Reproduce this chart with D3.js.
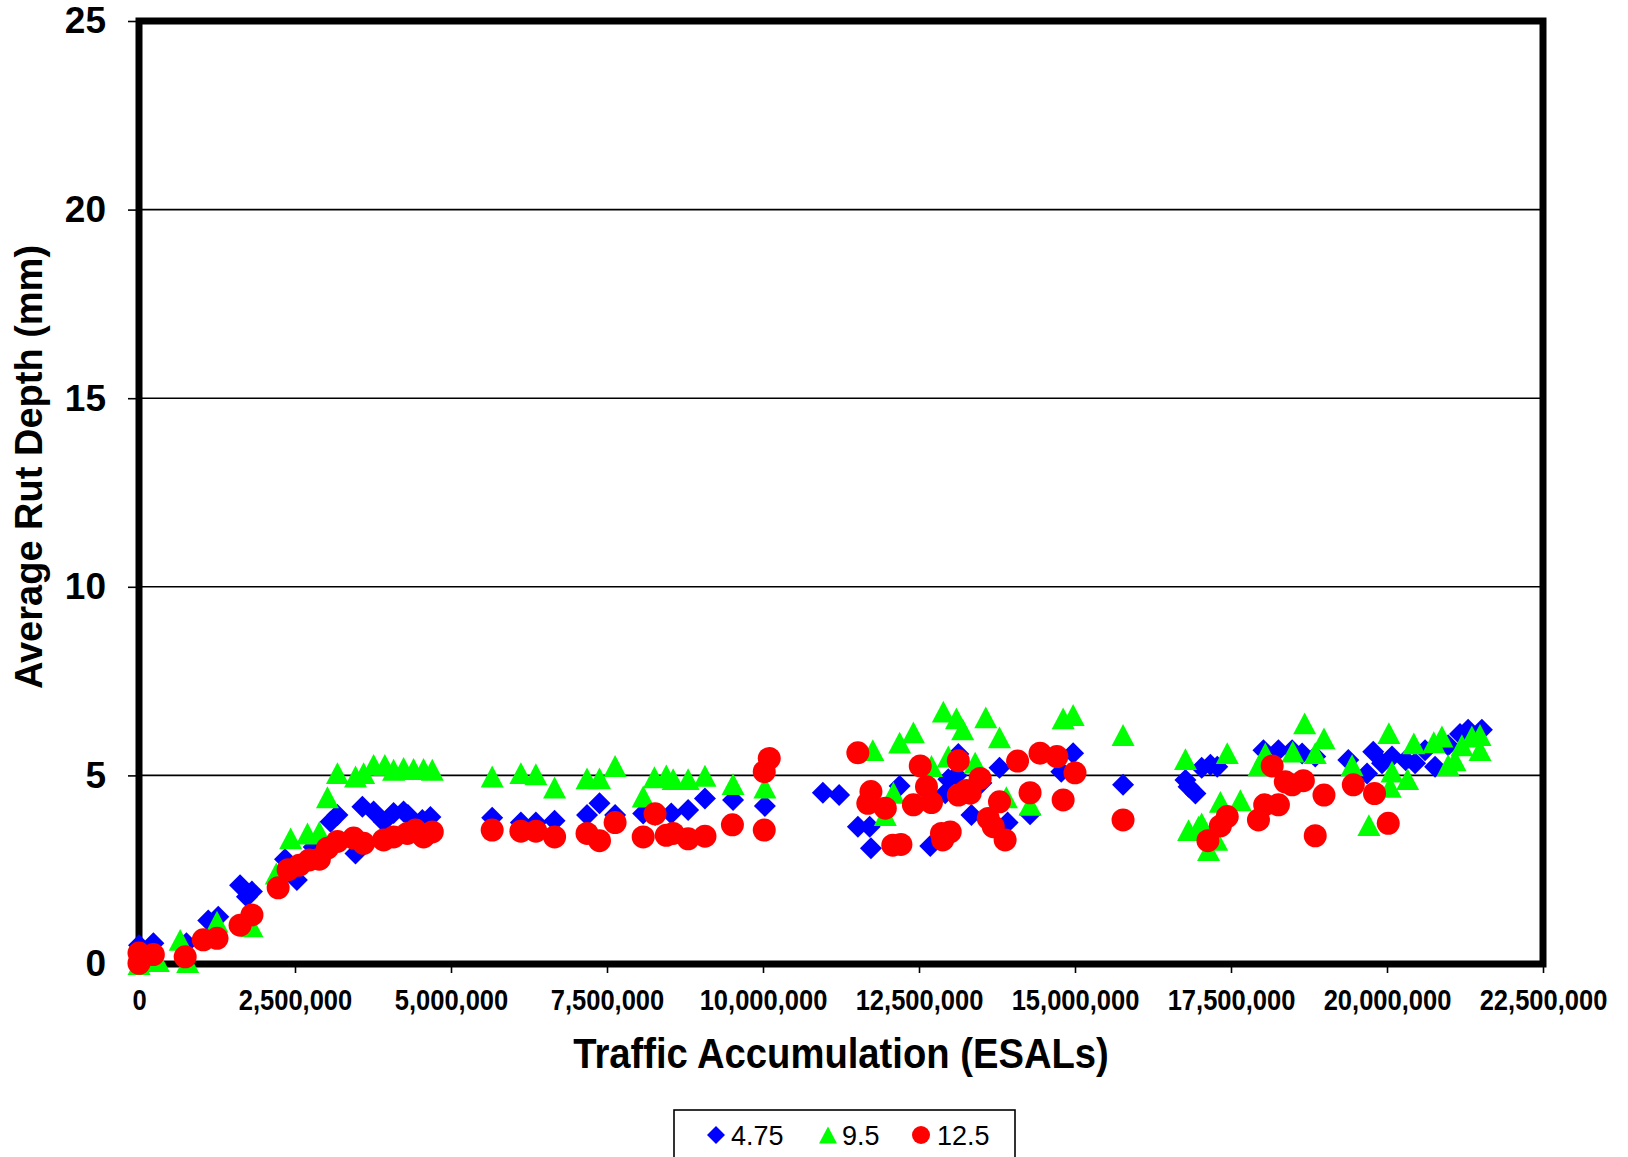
<!DOCTYPE html>
<html>
<head>
<meta charset="utf-8">
<script src="https://cdn.jsdelivr.net/npm/d3@7"></script>
<style>
  html, body { margin: 0; padding: 0; background: #fff; }
  svg { display: block; }
  text { font-family: "Liberation Sans", Arial, sans-serif; }
</style>
</head>
<body>
<svg id="chart" width="1628" height="1157"></svg>
<script>
// ---- Data (Traffic in ESALs, rut depth in mm) ----
const seriesNames = ["4.75", "9.5", "12.5"];
const seriesColors = ["#0000FF", "#00FF00", "#FF0000"];

const esal_475 = [0.0e6,0.23e6,0.76e6,1.11e6,1.27e6,1.62e6,1.73e6,1.81e6,2.34e6,2.53e6,2.8e6,3.07e6,3.18e6,3.47e6,3.58e6,3.76e6,3.92e6,4.08e6,4.24e6,4.31e6,4.54e6,4.67e6,5.66e6,6.12e6,6.36e6,6.66e6,7.18e6,7.38e6,7.63e6,8.08e6,8.27e6,8.53e6,8.8e6,9.07e6,9.52e6,10.03e6,10.96e6,11.22e6,11.52e6,11.71e6,11.73e6,12.19e6,12.68e6,12.92e6,12.97e6,13.1e6,13.13e6,13.34e6,13.5e6,13.79e6,13.92e6,14.28e6,14.78e6,14.97e6,15.77e6,16.77e6,16.82e6,16.93e6,17.03e6,17.17e6,17.28e6,18.02e6,18.26e6,18.48e6,18.64e6,18.85e6,19.38e6,19.68e6,19.78e6,19.92e6,20.08e6,20.3e6,20.45e6,20.61e6,20.77e6,20.98e6,21.17e6,21.3e6,21.52e6];
const rut_475 = [0.5,0.55,0.55,1.15,1.25,2.09,1.78,1.92,2.78,2.23,3.1,3.77,3.95,2.93,4.17,4.04,3.77,4.0,4.04,3.95,3.82,3.9,3.88,3.75,3.75,3.8,3.95,4.26,3.95,3.99,3.95,3.99,4.08,4.39,4.35,4.19,4.54,4.48,3.64,3.64,3.07,4.72,3.13,4.53,4.9,5.0,5.57,3.95,4.8,5.2,3.75,3.97,5.1,5.59,4.75,4.88,4.7,4.52,5.2,5.28,5.23,5.67,5.67,5.67,5.58,5.5,5.41,5.05,5.63,5.32,5.5,5.4,5.32,5.67,5.23,5.8,6.1,6.21,6.21];

const esal_95 = [0.0e6,0.31e6,0.66e6,0.78e6,1.25e6,1.81e6,2.2e6,2.43e6,2.7e6,2.89e6,3.02e6,3.18e6,3.47e6,3.6e6,3.76e6,3.94e6,4.08e6,4.24e6,4.4e6,4.56e6,4.7e6,5.66e6,6.12e6,6.36e6,6.66e6,7.18e6,7.38e6,7.63e6,8.08e6,8.26e6,8.45e6,8.56e6,8.8e6,9.07e6,9.52e6,10.03e6,11.76e6,11.96e6,12.09e6,12.19e6,12.41e6,12.7e6,12.89e6,12.97e6,13.1e6,13.2e6,13.4e6,13.57e6,13.79e6,13.9e6,14.28e6,14.81e6,14.97e6,15.77e6,16.77e6,16.82e6,16.98e6,17.03e6,17.14e6,17.27e6,17.33e6,17.44e6,17.65e6,17.95e6,18.05e6,18.49e6,18.68e6,18.85e6,18.99e6,19.44e6,19.71e6,20.03e6,20.05e6,20.08e6,20.33e6,20.43e6,20.75e6,20.88e6,20.98e6,21.09e6,21.2e6,21.36e6,21.49e6,21.49e6];
const rut_95 = [0.0,0.08,0.64,0.05,1.12,1.0,2.4,3.33,3.46,3.5,4.42,5.06,4.97,5.06,5.28,5.28,5.15,5.2,5.17,5.17,5.15,4.97,5.06,5.03,4.68,4.92,4.92,5.25,4.44,4.95,5.0,4.9,4.9,4.99,4.77,4.68,5.67,3.95,4.54,5.87,6.14,5.25,6.69,5.5,6.51,6.22,5.34,6.54,6.01,4.42,4.22,6.51,6.6,6.07,5.43,3.55,3.64,3.73,3.02,3.29,4.3,5.59,4.34,5.27,5.58,5.63,6.38,5.59,5.98,5.27,3.68,6.12,4.7,5.1,4.9,5.85,5.88,6.03,5.27,5.4,5.8,6.03,6.07,5.67];

const esal_125 = [0.0e6,0.0e6,0.23e6,0.74e6,1.03e6,1.25e6,1.62e6,1.81e6,2.23e6,2.39e6,2.57e6,2.73e6,2.89e6,3.02e6,3.18e6,3.44e6,3.6e6,3.92e6,4.08e6,4.3e6,4.43e6,4.56e6,4.7e6,5.66e6,6.12e6,6.36e6,6.66e6,7.18e6,7.38e6,7.63e6,8.08e6,8.27e6,8.45e6,8.56e6,8.8e6,9.07e6,9.51e6,10.02e6,10.1e6,10.02e6,11.52e6,11.68e6,11.73e6,11.96e6,12.08e6,12.21e6,12.41e6,12.52e6,12.62e6,12.7e6,12.86e6,12.88e6,13.0e6,13.13e6,13.13e6,13.26e6,13.32e6,13.48e6,13.61e6,13.69e6,13.79e6,13.88e6,14.08e6,14.28e6,14.44e6,14.71e6,14.81e6,15.0e6,15.77e6,17.13e6,17.33e6,17.44e6,17.94e6,18.04e6,18.16e6,18.26e6,18.37e6,18.48e6,18.66e6,18.85e6,18.99e6,19.46e6,19.8e6,20.02e6];
const rut_125 = [0.02,0.29,0.25,0.19,0.64,0.68,1.03,1.3,2.02,2.5,2.62,2.76,2.78,3.07,3.25,3.34,3.2,3.29,3.37,3.46,3.55,3.37,3.5,3.55,3.52,3.52,3.37,3.46,3.27,3.75,3.37,3.98,3.41,3.46,3.32,3.39,3.69,5.1,5.45,3.55,5.6,4.26,4.57,4.13,3.15,3.17,4.22,5.25,4.7,4.28,3.46,3.29,3.5,5.39,4.48,4.6,4.53,4.92,3.86,3.64,4.3,3.29,5.38,4.54,5.59,5.5,4.35,5.07,3.82,3.27,3.66,3.91,3.82,4.22,5.25,4.22,4.83,4.75,4.86,3.4,4.48,4.75,4.52,3.73];

const xTickValues = [0, 2500000, 5000000, 7500000, 10000000, 12500000, 15000000, 17500000, 20000000, 22500000];
const yTickValues = [0, 5, 10, 15, 20, 25];
const xTitle = "Traffic Accumulation (ESALs)";
const yTitle = "Average Rut Depth (mm)";

// ---- Layout ----
const svg = d3.select("#chart");
const W = 1628, H = 1157;
const plot = { left: 139, right: 1543, top: 21, bottom: 964 };

svg.append("rect").attr("x", 0).attr("y", 0).attr("width", W).attr("height", H).attr("fill", "#fff");

const x = d3.scaleLinear().domain([0, 22500000]).range([plot.left, plot.right]);
const y = d3.scaleLinear().domain([0, 25]).range([plot.bottom, plot.top]);

// Gridlines
svg.append("g").selectAll("line")
  .data(yTickValues.filter(v => v > 0 && v < 25))
  .join("line")
  .attr("x1", plot.left).attr("x2", plot.right)
  .attr("y1", d => y(d)).attr("y2", d => y(d))
  .attr("stroke", "#000").attr("stroke-width", 1.6);

// Axes (ticks + labels)
const xAxis = d3.axisBottom(x).tickValues(xTickValues).tickFormat(d3.format(",")).tickSize(9).tickPadding(16);
const gx = svg.append("g").attr("transform", `translate(0,${plot.bottom})`).call(xAxis);
gx.select(".domain").remove();
gx.selectAll(".tick line").attr("stroke", "#000").attr("stroke-width", 1.6);
gx.selectAll(".tick text")
  .attr("font-family", '"Liberation Sans", Arial, sans-serif')
  .attr("font-size", 29).attr("font-weight", "bold").attr("fill", "#000")
  .attr("transform", "scale(0.88,1)");

const yAxis = d3.axisLeft(y).tickValues(yTickValues).tickFormat(d3.format("d")).tickSize(11).tickPadding(22);
const gy = svg.append("g").attr("transform", `translate(${plot.left},0)`).call(yAxis);
gy.select(".domain").remove();
gy.selectAll(".tick line").attr("stroke", "#000").attr("stroke-width", 1.6);
gy.selectAll(".tick text")
  .attr("font-family", '"Liberation Sans", Arial, sans-serif')
  .attr("font-size", 37).attr("font-weight", "bold").attr("fill", "#000");

// Plot frame
svg.append("rect")
  .attr("x", plot.left).attr("y", plot.top)
  .attr("width", plot.right - plot.left).attr("height", plot.bottom - plot.top)
  .attr("fill", "none").attr("stroke", "#000").attr("stroke-width", 7);

// Titles
svg.append("text")
  .attr("transform", `translate(${(plot.left + plot.right) / 2},1068) scale(0.91,1)`)
  .attr("text-anchor", "middle")
  .attr("font-size", 42).attr("font-weight", "bold").attr("fill", "#000")
  .text(xTitle);

svg.append("text")
  .attr("transform", "translate(42,467) rotate(-90)")
  .attr("text-anchor", "middle")
  .attr("font-size", 38).attr("font-weight", "bold").attr("fill", "#000")
  .text(yTitle);

// Marker shapes
function markerPath(kind, s) {
  if (kind === 0) { // diamond (rotated square)
    const r = s / 2;
    return `M0,${-r}L${r},0L0,${r}L${-r},0Z`;
  } else if (kind === 1) { // triangle
    const w = s, h = s * 0.95;
    return `M0,${-h / 2}L${w / 2},${h / 2}L${-w / 2},${h / 2}Z`;
  } else { // circle
    const r = s / 2;
    return `M${r},0A${r},${r} 0 1,1 ${-r},0A${r},${r} 0 1,1 ${r},0Z`;
  }
}

const series = [
  { xs: esal_475, ys: rut_475, size: 22 },
  { xs: esal_95, ys: rut_95, size: 23 },
  { xs: esal_125, ys: rut_125, size: 23 }
];

series.forEach((s, i) => {
  const pts = s.xs.map((v, k) => [v, s.ys[k]]);
  svg.append("g").selectAll("path")
    .data(pts)
    .join("path")
    .attr("d", markerPath(i, s.size))
    .attr("transform", d => `translate(${x(d[0])},${y(d[1])})`)
    .attr("fill", seriesColors[i]);
});

// Legend
const lg = svg.append("g");
lg.append("rect").attr("x", 674).attr("y", 1110).attr("width", 341).attr("height", 70)
  .attr("fill", "#fff").attr("stroke", "#000").attr("stroke-width", 1.6);
const legendItems = [
  { mx: 716, tx: 731 },
  { mx: 828, tx: 842 },
  { mx: 921, tx: 937 }
];
legendItems.forEach((it, i) => {
  lg.append("path").attr("d", markerPath(i, 18))
    .attr("transform", `translate(${it.mx},1135)`).attr("fill", seriesColors[i]);
  lg.append("text").attr("x", it.tx).attr("y", 1145)
    .attr("font-size", 27).attr("fill", "#000").text(seriesNames[i]);
});
</script>
</body>
</html>
